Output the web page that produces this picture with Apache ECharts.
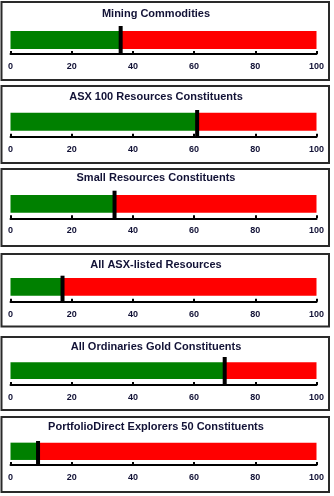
<!DOCTYPE html>
<html>
<head>
<meta charset="utf-8">
<script src="https://cdn.jsdelivr.net/npm/echarts@6/dist/echarts.min.js"></script>
<style>
  html, body { margin: 0; padding: 0; background: #ffffff; }
  #chart { width: 334px; height: 496px; }
</style>
</head>
<body>
<div id="chart"></div>
<script>
// Gauge names and readings (percent of the 0–100 scale)
const panelTitles = [
  'Mining Commodities',
  'ASX 100 Resources Constituents',
  'Small Resources Constituents',
  'All ASX-listed Resources',
  'All Ordinaries Gold Constituents',
  'PortfolioDirect Explorers 50 Constituents'
];
const readings = [36, 61, 34, 17, 70, 9];
const scaleMin = 0;
const scaleMax = 100;
const tickStep = 20;

// Per-panel layout in pixels: frame box, title line, bar centre, axis line, marker top, bar thickness
const layout = [
  { boxTop: 2,   boxBottom: 80,    titleY: 14,  barMid: 40,    axisY: 54,    markTop: 26,    barW: 18 },
  { boxTop: 86,  boxBottom: 163,   titleY: 97,  barMid: 121.7, axisY: 136.7, markTop: 110,   barW: 18 },
  { boxTop: 169, boxBottom: 246,   titleY: 178, barMid: 203.8, axisY: 218.3, markTop: 190.7, barW: 17.7 },
  { boxTop: 254, boxBottom: 326.5, titleY: 265, barMid: 286.9, axisY: 301.7, markTop: 275.7, barW: 17.7 },
  { boxTop: 337, boxBottom: 410,   titleY: 347, barMid: 370.7, axisY: 385,   markTop: 357,   barW: 16.7 },
  { boxTop: 417, boxBottom: 492,   titleY: 427, barMid: 451.3, axisY: 465,   markTop: 441,   barW: 17.3 }
];

const FONT = 'Arial, "Liberation Sans", sans-serif';
const TEXT_COLOR = '#121236';
const PLOT_LEFT = 10.5;
const PLOT_RIGHT = 17.5;
const TITLE_X = 156;

const chart = echarts.init(document.getElementById('chart'), null, { renderer: 'canvas' });

const grids = [], xAxes = [], yAxes = [], series = [], graphics = [];

panelTitles.forEach((name, i) => {
  const L = layout[i];
  const v = readings[i];

  // frame around each gauge
  graphics.push({
    type: 'rect',
    shape: { x: 1.5, y: L.boxTop, width: 327.5, height: L.boxBottom - L.boxTop },
    style: { fill: '#ffffff', stroke: '#2a2a2a', lineWidth: 2 },
    z: -10
  });
  graphics.push({
    type: 'text',
    x: TITLE_X,
    y: L.titleY,
    style: {
      text: name,
      align: 'center',
      verticalAlign: 'middle',
      fontFamily: FONT,
      fontSize: 11,
      fontWeight: 'bold',
      fill: TEXT_COLOR
    }
  });

  // plotting area: bar band centred on the bar, bottom edge on the axis line
  const top = 2 * L.barMid - L.axisY;
  grids.push({
    left: PLOT_LEFT,
    right: PLOT_RIGHT,
    top: top,
    height: 2 * (L.axisY - L.barMid),
    containLabel: false
  });

  xAxes.push({
    type: 'value',
    gridIndex: i,
    min: scaleMin,
    max: scaleMax,
    interval: tickStep,
    axisLine: { show: true, lineStyle: { color: '#000000', width: 2 } },
    axisTick: { show: true, inside: true, length: 3, lineStyle: { color: '#000000', width: 2 } },
    splitLine: { show: false },
    axisLabel: {
      margin: 8,
      fontFamily: FONT,
      fontSize: 9,
      fontWeight: 'bold',
      color: TEXT_COLOR
    }
  });

  yAxes.push({
    type: 'category',
    gridIndex: i,
    data: [name],
    axisLine: { show: false },
    axisTick: { show: false },
    axisLabel: { show: false },
    splitLine: { show: false }
  });

  // filled part of the scale
  series.push({
    type: 'bar',
    xAxisIndex: i,
    yAxisIndex: i,
    stack: 'scale' + i,
    barWidth: L.barW,
    itemStyle: { color: '#008000' },
    silent: true,
    data: [v]
  });
  // remainder up to the end of the scale
  series.push({
    type: 'bar',
    xAxisIndex: i,
    yAxisIndex: i,
    stack: 'scale' + i,
    barWidth: L.barW,
    itemStyle: { color: '#ff0000' },
    silent: true,
    data: [scaleMax - v]
  });
  // needle at the reading, reaching from above the bar down to the axis
  const needleH = L.axisY - L.markTop;
  series.push({
    type: 'scatter',
    xAxisIndex: i,
    yAxisIndex: i,
    symbol: 'rect',
    symbolSize: [4, needleH],
    symbolOffset: [0, (L.markTop + L.axisY) / 2 - L.barMid],
    itemStyle: { color: '#000000', opacity: 1 },
    silent: true,
    z: 5,
    data: [[v, 0]]
  });
});

chart.setOption({
  animation: false,
  backgroundColor: '#ffffff',
  graphic: graphics,
  grid: grids,
  xAxis: xAxes,
  yAxis: yAxes,
  series: series
});
</script>
</body>
</html>
